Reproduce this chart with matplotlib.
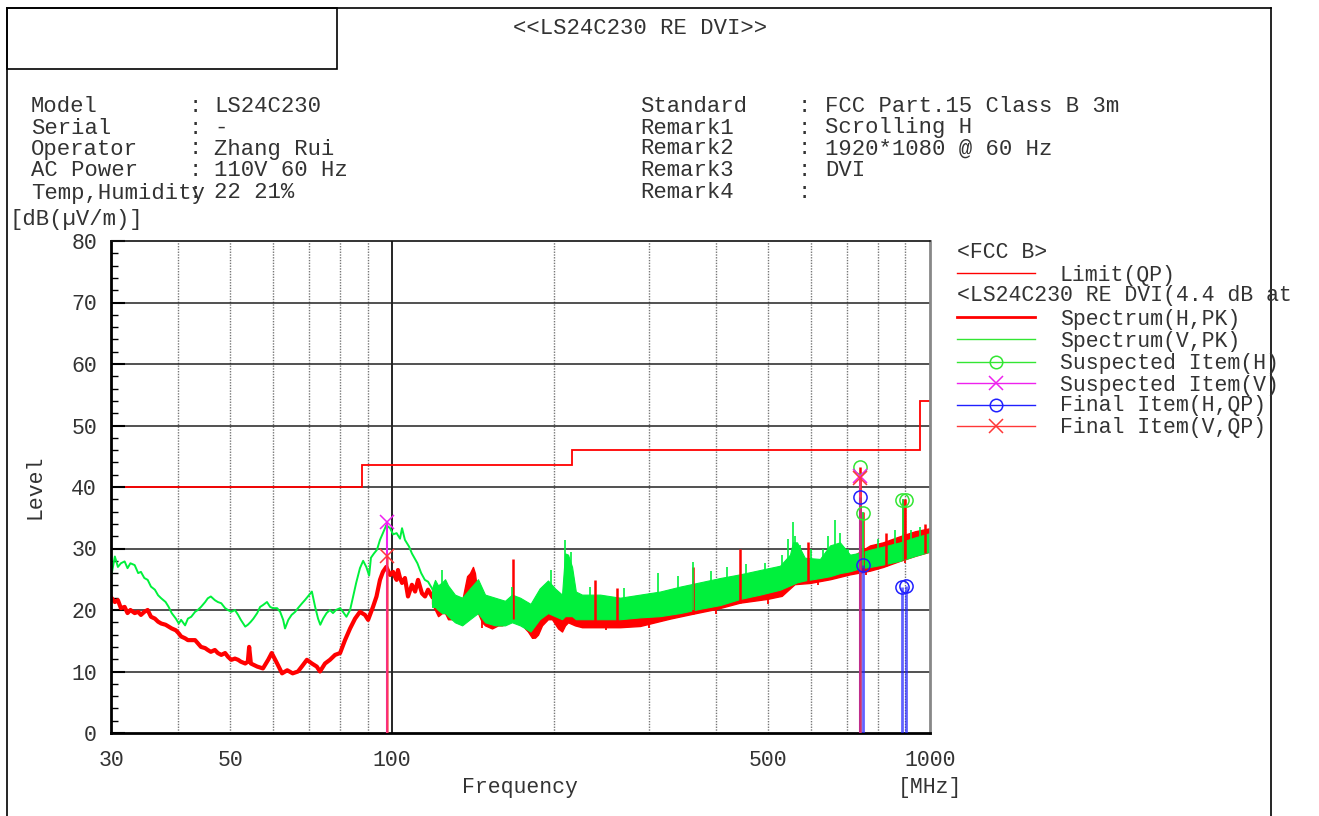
import numpy as np
import matplotlib
matplotlib.use("Agg")
import matplotlib.pyplot as plt
from matplotlib.lines import Line2D
from matplotlib.patches import Rectangle

# ---------------- data ----------------
limit_edges = [30, 88, 216, 960, 1000]
limit_levels = [40, 43.5, 46, 54]

red_line_f = [30.1, 30.5, 30.9, 31.3, 31.8, 32.2, 32.6, 33.2, 33.7, 34.1,
              34.6, 35.1, 35.6, 36.2, 36.7, 37.2, 37.9, 38.4, 38.9, 39.6,
              40.1, 40.5, 41.2, 41.7, 42.3, 43.0, 43.5, 44.1, 44.9, 45.4,
              46.0, 46.8, 47.4, 48.1, 48.9, 49.5, 50.2, 51.0, 51.7, 52.3,
              53.3, 53.9, 54.2, 54.6, 56.1, 57.5, 58.8, 59.7, 61.1, 62.4,
              63.8, 65.3, 66.8, 67.9, 69.4, 70.9, 72.4, 73.4, 75.0, 76.6,
              78.3, 80.0, 81.7, 83.5, 85.3, 87.1, 89.0, 90.2, 92.1, 93.5,
              94.9, 96.1, 97.5, 99.1, 100.4, 101.2, 101.9, 102.5, 103.4, 104.3,
              105.6, 107.0, 108.8, 110.3, 111.7, 113.6, 115.1, 116.6, 118.6]
red_line_db = [21.9, 21.3, 21.6, 20.3, 20.5, 19.5, 20.0, 19.5, 19.7, 19.2,
               19.7, 20.0, 18.9, 18.6, 18.1, 17.8, 17.6, 17.3, 17.0, 16.7,
               16.2, 15.7, 15.4, 15.1, 15.1, 15.1, 14.6, 14.0, 13.8, 13.5,
               13.2, 13.5, 13.0, 12.7, 13.0, 12.4, 11.9, 12.1, 11.9, 11.6,
               11.3, 11.6, 14.0, 11.3, 10.8, 10.5, 11.9, 13.0, 11.3, 9.7,
               10.2, 9.7, 10.0, 10.8, 11.9, 11.3, 10.8, 10.0, 11.3, 11.9,
               12.7, 13.0, 15.1, 17.0, 18.6, 19.7, 19.2, 18.4, 20.5, 22.2,
               24.9, 26.2, 27.0, 25.7, 26.2, 25.4, 24.9, 26.5, 25.2, 24.4,
               25.2, 22.2, 24.1, 23.0, 24.9, 22.7, 22.2, 23.3, 22.2]

red_band_f = [118.6, 121.7, 123.8, 125.4, 127.0, 129.2, 132.5, 134.9, 137.8, 139.5,
              141.3, 142.5, 144.4, 146.9, 148.8, 153.3, 157.3, 160.0, 164.2, 167.0,
              171.4, 174.3, 176.6, 178.8, 181.9, 184.3, 186.7, 189.9, 194.8, 198.2,
              203.4, 206.9, 209.6, 212.3, 218.7, 225.4, 243.5, 265.3, 288.9, 301.5,
              328.5, 362.5, 401.8, 443.4, 497.7, 530.0, 560.0, 598.2, 651.7, 710.0,
              773.5, 817.9, 879.6, 938.0, 1000.0]
red_band_lo = [21.0, 19.0, 19.5, 19.5, 18.5, 18.5, 19.5, 19.0, 22.0, 22.5,
               22.5, 21.0, 19.5, 18.0, 17.5, 17.0, 17.5, 17.5, 18.0, 18.5,
               19.0, 18.0, 17.0, 16.5, 15.5, 15.5, 16.0, 17.5, 18.5, 18.5,
               17.0, 16.5, 17.5, 18.0, 17.5, 17.2, 17.2, 17.2, 17.4, 17.8,
               18.6, 19.4, 20.2, 21.2, 21.8, 22.3, 24.2, 24.4, 25.0, 25.8,
               26.4, 27.0, 28.0, 28.8, 29.5]
red_band_hi = [23.5, 21.5, 22.5, 22.0, 21.0, 20.5, 22.0, 21.5, 25.5, 26.0,
               27.0, 26.0, 22.0, 20.5, 20.0, 19.5, 20.5, 20.0, 21.0, 21.0,
               22.0, 20.5, 19.5, 19.0, 18.0, 17.5, 18.5, 20.0, 21.0, 21.0,
               19.5, 19.0, 23.5, 22.5, 20.5, 19.5, 19.8, 20.0, 20.3, 21.5,
               22.3, 23.2, 24.0, 24.8, 25.5, 26.0, 27.0, 27.0, 27.5, 28.5,
               30.5, 31.0, 32.0, 32.8, 33.3]

red_spike_f = [167.7, 238.3, 261.9, 362.5, 443.4, 593.1, 741.1, 750.7, 830.0, 890.0,
               899.0, 980.0]
red_spike_db = [28.3, 24.9, 23.5, 27.0, 30.0, 31.1, 43.3, 36.0, 32.5, 38.0,
                38.0, 34.0]
red_dip_f = [147.0, 183.0, 250.0, 300.0, 400.0, 500.0, 620.0, 760.0, 900.0]
red_dip_db = [17.0, 15.3, 16.8, 17.0, 19.3, 21.0, 24.0, 25.7, 27.6]

green_line_f = [30.1, 30.5, 30.9, 31.3, 31.8, 32.2, 32.6, 33.2, 33.7, 34.1,
                34.6, 35.1, 35.6, 36.2, 36.7, 37.2, 37.9, 38.4, 38.9, 39.6,
                40.1, 40.5, 41.2, 41.7, 42.3, 43.0, 43.5, 44.1, 44.9, 45.4,
                46.0, 46.8, 47.4, 48.1, 48.9, 49.5, 50.2, 51.0, 51.7, 52.3,
                53.3, 53.9, 54.6, 55.2, 56.1, 56.8, 57.5, 58.5, 59.3, 60.0,
                61.1, 61.9, 62.7, 63.2, 64.1, 65.0, 66.0, 66.8, 68.0, 68.8,
                69.7, 70.9, 71.9, 72.8, 73.5, 74.4, 75.5, 76.6, 77.6, 78.6,
                80.0, 81.0, 82.2, 83.5, 84.6, 85.7, 87.1, 88.3, 89.5, 90.6,
                91.3, 92.5, 93.7, 94.9, 96.1, 97.5, 99.1, 100.4, 101.9, 103.4,
                104.3, 105.6, 107.5, 108.8, 111.4, 113.2, 115.0, 116.6, 118.6, 120.1]
green_line_db = [26.0, 28.7, 27.0, 27.6, 27.9, 26.8, 27.6, 27.3, 26.0, 26.2,
                 25.2, 24.9, 23.8, 23.3, 22.4, 21.9, 21.3, 20.5, 19.5, 18.6,
                 17.8, 18.4, 17.5, 18.6, 18.9, 19.7, 20.0, 20.5, 21.3, 21.9,
                 22.2, 21.6, 21.3, 21.1, 20.3, 20.0, 19.7, 20.0, 19.2, 18.4,
                 17.3, 17.6, 18.1, 18.6, 19.5, 20.5, 20.8, 21.3, 20.5, 20.3,
                 20.3, 19.7, 18.4, 17.0, 18.4, 19.2, 19.7, 20.3, 21.1, 21.6,
                 22.2, 23.0, 20.5, 18.6, 17.6, 18.6, 19.5, 20.0, 19.5, 20.0,
                 20.3, 19.7, 18.9, 20.0, 22.2, 24.4, 26.8, 28.0, 27.0, 25.6,
                 28.5, 29.2, 29.8, 31.4, 32.5, 33.8, 33.3, 32.3, 32.5, 31.6,
                 33.3, 31.4, 30.3, 29.2, 27.6, 26.0, 24.9, 24.6, 23.5, 22.7]

green_band_f = [118.6, 120.1, 121.7, 123.8, 125.4, 127.0, 130.8, 134.9, 139.5, 144.4,
                148.8, 155.3, 162.1, 167.0, 172.9, 180.8, 188.0, 194.8, 200.8, 206.9,
                209.6, 212.3, 216.0, 219.5, 225.4, 243.5, 265.3, 288.9, 314.7, 342.8,
                373.6, 407.0, 443.4, 483.0, 526.2, 549.1, 556.2, 565.8, 585.0, 624.4,
                651.7, 680.0, 710.0, 741.1, 773.5, 817.9, 879.6, 938.0, 1000.0]
green_band_lo = [20.5, 20.5, 20.0, 19.5, 19.5, 19.0, 18.0, 17.5, 18.5, 19.5,
                 18.0, 17.5, 17.5, 18.0, 17.5, 16.5, 18.5, 19.5, 19.0, 18.5,
                 19.0, 19.0, 19.0, 18.5, 18.5, 18.5, 18.5, 18.8, 19.0, 19.5,
                 20.2, 20.8, 21.8, 22.5, 23.3, 24.0, 24.2, 24.5, 24.8, 25.2,
                 25.5, 26.0, 26.3, 26.8, 27.0, 27.4, 28.0, 28.8, 29.5]
green_band_hi = [23.5, 24.9, 24.0, 24.5, 25.0, 24.0, 22.5, 22.0, 23.5, 25.0,
                 22.5, 22.0, 21.5, 22.5, 22.0, 21.0, 23.5, 24.8, 23.5, 22.5,
                 29.2, 29.0, 27.0, 23.0, 22.5, 22.5, 22.0, 22.5, 23.0, 23.8,
                 24.5, 25.2, 25.8, 26.5, 27.2, 29.0, 31.0, 31.0, 28.5, 28.3,
                 30.5, 31.0, 29.0, 29.3, 29.8, 30.3, 31.0, 31.8, 32.5]

green_spike_f = [124.0, 167.0, 197.0, 209.6, 214.7, 233.2, 270.0, 312.1, 340.0, 362.5,
                 392.0, 420.0, 455.0, 494.0, 530.0, 545.0, 556.2, 562.0, 573.0, 600.0,
                 632.0, 645.0, 665.9, 680.0, 705.0, 750.7, 800.0, 860.0, 890.0, 920.0,
                 958.1]
green_spike_db = [26.5, 23.8, 26.5, 31.4, 29.5, 23.8, 23.5, 26.0, 25.5, 27.8,
                  26.3, 27.0, 27.5, 27.6, 29.0, 31.5, 34.3, 32.0, 30.5, 30.0,
                  30.0, 32.0, 34.6, 32.5, 30.0, 36.0, 31.5, 33.0, 38.0, 33.0,
                  33.5]

susp_h_f = [741.1, 750.7, 887.0, 902.0]
susp_h_db = [43.3, 35.8, 37.9, 37.9]
susp_v_f = [97.8, 741.1]
susp_v_db = [34.3, 41.8]
final_h_f = [741.1, 750.7, 887.0, 902.0]
final_h_db = [38.3, 27.3, 23.7, 23.9]
final_v_f = [97.8, 741.1]
final_v_db = [28.7, 41.5]

x_ticks = [30, 50, 100, 500, 1000]
x_ticklabels = ["30", "50", "100", "500", "1000"]
x_grid_minor = [40, 50, 60, 70, 80, 90, 200, 300, 400, 500, 600, 700, 800, 900]
y_ticks = [0, 10, 20, 30, 40, 50, 60, 70, 80]

title = "<<LS24C230 RE DVI>>"
header_left = [("Model", "LS24C230"), ("Serial", "-"), ("Operator", "Zhang Rui"),
               ("AC Power", "110V 60 Hz"), ("Temp,Humidity", "22 21%")]
header_right = [("Standard", "FCC Part.15 Class B 3m"), ("Remark1", "Scrolling H"),
                ("Remark2", "1920*1080 @ 60 Hz"), ("Remark3", "DVI"), ("Remark4", "")]
legend_head1 = "<FCC B>"
legend_head2 = "<LS24C230 RE DVI(4.4 dB at"
legend_labels = ["Limit(QP)", "Spectrum(H,PK)", "Spectrum(V,PK)", "Suspected Item(H)",
                 "Suspected Item(V)", "Final Item(H,QP)", "Final Item(V,QP)"]

# ---------------- style ----------------
W, H = 1319, 816
FONT = ["Liberation Mono", "DejaVu Sans Mono"]
plt.rcParams["font.family"] = FONT
FS = 15.5
FSH = 16
TXT = "#333333"
RED = "#ff0000"
GREEN = "#00f03c"
LGREEN = "#33e633"
MAGENTA = "#ee22ee"
BLUE = "#2020ff"
FVRED = "#ff3838"

fig = plt.figure(figsize=(W / 100, H / 100), dpi=100)


def fx(x):
    return x / W


def fy(y):
    return 1 - y / H


def ftext(x, y, s, **kw):
    kw.setdefault("fontsize", FS)
    kw.setdefault("color", TXT)
    kw.setdefault("va", "center")
    fig.text(fx(x), fy(y), s, **kw)


def fline(xs, ys, **kw):
    fig.add_artist(Line2D([fx(v) for v in xs], [fy(v) for v in ys],
                          transform=fig.transFigure, **kw))


# frame
fline([7, 7], [8, 816], color="black", lw=1.2)
fline([7, 1271], [8, 8], color="black", lw=1.2)
fline([1271, 1271], [8, 816], color="black", lw=1.2)
fig.add_artist(Rectangle((fx(7), fy(69)), fx(337 - 7), (69 - 8) / H,
                         transform=fig.transFigure, fill=False, ec="black", lw=1.2))

ftext(640, 28, title, ha="center", fontsize=FSH)
rows_y = [106, 128, 149, 171, 193]
for (lab, val), y in zip(header_left, rows_y):
    ftext(31, y, lab, fontsize=FSH)
    ftext(189, y, ":", fontsize=FSH)
    ftext(214, y, val, fontsize=FSH)
for (lab, val), y in zip(header_right, rows_y):
    ftext(640, y, lab, fontsize=FSH)
    ftext(798, y, ":", fontsize=FSH)
    ftext(825, y, val, fontsize=FSH)

ftext(9, 219, "[dB(\u00b5V/m)]", fontsize=FSH)
ftext(35, 487, "Level", rotation=90, ha="center")
ftext(520, 788, "Frequency", ha="center")
ftext(930, 788, "[MHz]", ha="center")

# ---------------- axes ----------------
ax = fig.add_axes([fx(111), fy(733), (930 - 111) / W, (733 - 241) / H])
ax.set_xscale("log")
ax.set_xlim(30, 1000)
ax.set_ylim(0, 80)

for f in x_grid_minor:
    ax.axvline(f, color="#777777", lw=1.0, ls=(0, (1, 1)), zorder=0.5)
ax.axvline(100, color="black", lw=1.2, zorder=0.6)
for v in y_ticks[1:-1]:
    ax.axhline(v, color="#222222", lw=1.1, zorder=0.6)

ax.set_xticks(x_ticks)
ax.set_xticklabels(x_ticklabels)
ax.set_xticks([], minor=True)
ax.set_yticks(y_ticks)
ax.set_yticks(np.arange(0, 81, 2), minor=True)
ax.tick_params(axis="y", which="major", direction="in", length=10, width=1.5,
               labelsize=FS, labelcolor=TXT, pad=10)
ax.tick_params(axis="y", which="minor", direction="in", length=5, width=1.0)
ax.tick_params(axis="x", which="major", direction="in", length=0,
               labelsize=FS, labelcolor=TXT, pad=12)
for s in ["left", "bottom"]:
    ax.spines[s].set_linewidth(2.0)
    ax.spines[s].set_color("black")
ax.spines["top"].set_linewidth(1.2)
ax.spines["top"].set_color("#111111")
ax.spines["right"].set_linewidth(2.0)
ax.spines["right"].set_color("#888888")

# limit
ax.stairs(limit_levels, limit_edges, baseline=None, color=RED, lw=1.3, zorder=1.5)

# spectra
ax.plot(red_line_f, red_line_db, color=RED, lw=3.0, zorder=2)
ax.fill_between(red_band_f, red_band_lo, red_band_hi, color=RED, lw=1.0, zorder=2)
rd = np.interp(red_dip_f, red_band_f, red_band_hi)
ax.vlines(red_dip_f, red_dip_db, rd, color=RED, lw=1.3, zorder=2)
ax.plot(green_line_f, green_line_db, color=GREEN, lw=1.4, zorder=2.2)
ax.fill_between(green_band_f, green_band_lo, green_band_hi, color=GREEN, lw=0.8, zorder=2.2)
gb = np.interp(green_spike_f, green_band_f, green_band_lo)
ax.vlines(green_spike_f, gb, green_spike_db, color=GREEN, lw=1.2, zorder=2.3)
rb = np.interp(red_spike_f, red_band_f, red_band_lo)
ax.vlines(red_spike_f, rb, red_spike_db, color=RED, lw=1.8, zorder=2.25)

# stems
ax.vlines(susp_v_f, 0, susp_v_db, color=MAGENTA, lw=1.5, zorder=3)
ax.vlines(final_h_f, 0, final_h_db, color=BLUE, lw=2.0, alpha=0.7, zorder=3.1)
ax.vlines(final_v_f, 0, final_v_db, color=FVRED, lw=1.8, alpha=0.75, zorder=3.2)

# markers
ax.plot(susp_h_f, susp_h_db, ls="none", marker="o", ms=9.5, mfc="none", mec=LGREEN, mew=1.1, zorder=4)
ax.plot(susp_v_f, susp_v_db, ls="none", marker="x", ms=10, mec=MAGENTA, mew=1.1, zorder=4)
ax.plot(final_h_f, final_h_db, ls="none", marker="o", ms=9.5, mfc="none", mec=BLUE, mew=1.1, zorder=4)
ax.plot(final_v_f, final_v_db, ls="none", marker="x", ms=10, mec=FVRED, mew=1.1, zorder=4)

# ---------------- legend ----------------
ftext(957, 252, legend_head1)
ftext(957, 295, legend_head2)
leg_rows = [273, 317, 339, 362, 383, 405, 426]
leg_text_y = [275, 320, 341, 363, 385, 406, 428]
leg_styles = [dict(color=RED, lw=1.0),
              dict(color=RED, lw=2.0),
              dict(color=LGREEN, lw=1.0),
              dict(color=LGREEN, lw=1.0, marker="o", ms=9, mfc="none", mew=1.1),
              dict(color=MAGENTA, lw=1.0, marker="x", ms=10, mew=1.1),
              dict(color=BLUE, lw=1.0, marker="o", ms=9, mfc="none", mew=1.1),
              dict(color=FVRED, lw=1.0, marker="x", ms=10, mew=1.1)]
for y, ty, lab, st in zip(leg_rows, leg_text_y, legend_labels, leg_styles):
    fline([957, 1035], [y, y], **st, markevery=[])
    if "marker" in st:
        fline([996], [y], ls="none", **{k: v for k, v in st.items() if k != "lw"})
    ftext(1060, ty, lab)

fig.savefig("out.png", dpi=100)
